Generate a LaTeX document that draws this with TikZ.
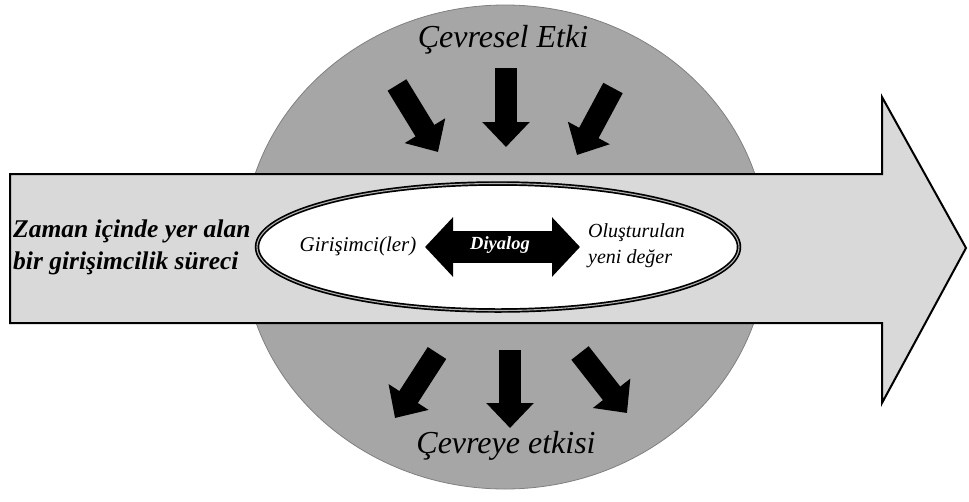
\documentclass[tikz,border=0pt]{standalone}
\usepackage{fontspec}
\setmainfont{Liberation Serif}
\usetikzlibrary{arrows.meta,shapes.geometric}
\definecolor{envgray}{HTML}{A6A6A6}
\definecolor{envline}{HTML}{808080}
\definecolor{flowgray}{HTML}{D9D9D9}
\tikzset{
  impact/.style={line width=22pt, -{Triangle[width=46pt,length=25pt]}},
  dialog/.style={line width=32pt, {Triangle[width=58pt,length=28pt]}-{Triangle[width=58pt,length=28pt]}},
  txt/.style 2 args={inner sep=0pt, font=\fontsize{#1}{#2}\selectfont\itshape},
  bold/.style 2 args={inner sep=0pt, font=\fontsize{#1}{#2}\selectfont\bfseries\itshape},
}
\begin{document}
\begin{tikzpicture}[x=1pt, y=-1pt]
  \useasboundingbox (0,0) rectangle (969,501);
  \node[ellipse, fill=envgray, draw=envline, line width=0.8pt, minimum width=524pt, minimum height=484pt, inner sep=0pt] (env) at (505,247) {};
  \draw[fill=flowgray, line width=2pt] (10,174) -- (882,174) -- (882,97) -- (966,248) -- (882,403) -- (882,323) -- (10,323) -- cycle;
  \node[ellipse, fill=white, draw=black, line width=1.7pt, double=gray!60, double distance=1.1pt, minimum width=482pt, minimum height=127pt, inner sep=0pt] (core) at (498,247) {};

  \node[txt={32}{38}] (title) at (503,40) {Çevresel Etki};
  \node[txt={32}{38}] (effect) at (506,446) {Çevreye etkisi};
  \node[bold={25.5}{32}, align=left, anchor=west] (process) at (13,247) {Zaman içinde yer alan\\bir girişimcilik süreci};
  \node[txt={21}{26}] (actors) at (358,246) {Girişimci(ler)};
  \node[txt={20}{26}, align=left, anchor=west] (value) at (588,246) {Oluşturulan\\yeni değer};

  \coordinate (dl) at (425,247);
  \coordinate (dr) at (580,247);
  \draw[dialog] (dl) -- (dr);
  \node[bold={18.5}{22}, text=white] (talk) at (500,245) {Diyalog};

  % inward arrows
  \coordinate (a1) at (397,85);  \coordinate (b1) at (438,152);
  \coordinate (a2) at (506,68);  \coordinate (b2) at (506,147);
  \coordinate (a3) at (613,88);  \coordinate (b3) at (577,155);
  % outward arrows
  \coordinate (c1) at (437,353); \coordinate (d1) at (395,418);
  \coordinate (c2) at (510,350); \coordinate (d2) at (510,428);
  \coordinate (c3) at (580,353); \coordinate (d3) at (627,413);
  \foreach \s/\e in {a1/b1,a2/b2,a3/b3,c1/d1,c2/d2,c3/d3}
    \draw[impact] (\s) -- (\e);
\end{tikzpicture}
\end{document}
